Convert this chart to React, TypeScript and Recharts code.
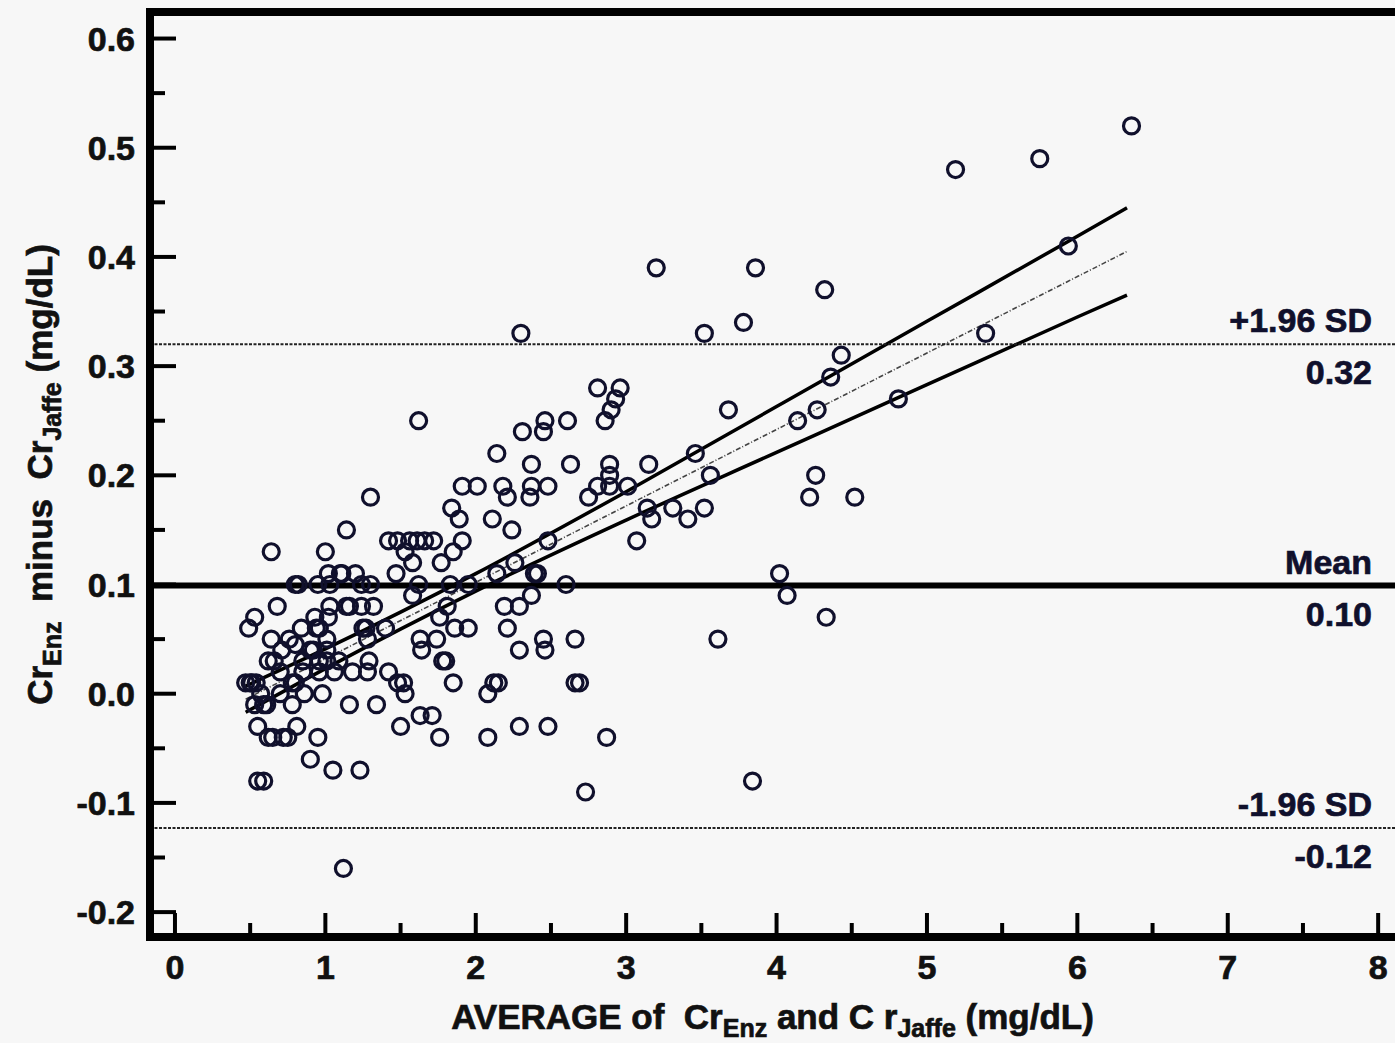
import { ComposedChart, Scatter, Line, XAxis, YAxis, ReferenceLine } from "recharts";

const FONT = "'Liberation Sans', Arial, sans-serif";
const INK = "#10102c";
const TEXT = "#111";

const X_DOMAIN = [-0.166, 8.112];
const Y_DOMAIN = [-0.2228, 0.6243];
const X_TICKS = [0, 0.5, 1, 1.5, 2, 2.5, 3, 3.5, 4, 4.5, 5, 5.5, 6, 6.5, 7, 7.5, 8];
const Y_TICKS = [-0.2, -0.15, -0.1, -0.05, 0, 0.05, 0.1, 0.15, 0.2, 0.25, 0.3, 0.35, 0.4, 0.45, 0.5, 0.55, 0.6];

// limits of agreement: value, name above the line, value text below the line
const LIMIT_VALUES = [0.32, 0.099, -0.123];
const LIMIT_NAMES = ["+1.96 SD", "Mean", "-1.96 SD"];
const LIMIT_TEXTS = ["0.32", "0.10", "-0.12"];

// regression of differences on averages, with its 95% confidence band
const REG_X = [0.47, 1, 2, 3, 4, 5, 6, 6.33];
const REG_MID = [-0.005, 0.032, 0.102, 0.172, 0.242, 0.312, 0.382, 0.405];
const REG_UPPER = [0.007, 0.041, 0.11, 0.185, 0.263, 0.341, 0.419, 0.445];
const REG_LOWER = [-0.017, 0.023, 0.094, 0.159, 0.221, 0.283, 0.345, 0.365];

// [average, difference] pairs, grouped by average
const POINTS_BELOW_1 = [
  [0.47, 0.01], [0.49, 0.06], [0.5, 0.01], [0.51, 0.01], [0.53, 0.07], [0.53, -0.01], [0.54, 0.01],
  [0.55, -0.03], [0.55, -0.08], [0.57, 0.0], [0.59, -0.01], [0.59, -0.08], [0.61, -0.01], [0.62, 0.03],
  [0.62, -0.04], [0.64, 0.13], [0.64, 0.05], [0.65, -0.04], [0.66, 0.03], [0.68, 0.08], [0.7, 0.02],
  [0.7, 0.0], [0.71, 0.04], [0.72, -0.04], [0.75, -0.04], [0.76, 0.05], [0.78, 0.01], [0.78, -0.01],
  [0.8, 0.1], [0.8, 0.045], [0.8, 0.01], [0.81, -0.03], [0.82, 0.1], [0.84, 0.06], [0.85, 0.03],
  [0.85, 0.02], [0.86, 0.0], [0.9, 0.04], [0.9, -0.06], [0.92, 0.04], [0.93, 0.07], [0.94, 0.06],
  [0.95, 0.1], [0.95, -0.04], [0.96, 0.06], [0.96, 0.03], [0.96, 0.02], [0.98, 0.0],
];
const POINTS_1_TO_2 = [
  [1.0, 0.13], [1.01, 0.05], [1.01, 0.04], [1.01, 0.03], [1.02, 0.11], [1.02, 0.07], [1.03, 0.1],
  [1.03, 0.08], [1.05, -0.07], [1.06, 0.02], [1.09, 0.03], [1.1, 0.11], [1.11, 0.11], [1.12, -0.16],
  [1.14, 0.15], [1.14, 0.08], [1.16, 0.08], [1.16, -0.01], [1.18, 0.02], [1.2, 0.11], [1.23, -0.07],
  [1.24, 0.1], [1.24, 0.08], [1.25, 0.06], [1.27, 0.06], [1.28, 0.05], [1.28, 0.02], [1.29, 0.03],
  [1.3, 0.18], [1.3, 0.1], [1.32, 0.08], [1.34, -0.01], [1.4, 0.06], [1.42, 0.14], [1.42, 0.02],
  [1.47, 0.11], [1.48, 0.14], [1.48, 0.01], [1.5, -0.03], [1.52, 0.01], [1.53, 0.13], [1.53, 0.0],
  [1.56, 0.14], [1.58, 0.12], [1.58, 0.09], [1.61, 0.14], [1.62, 0.25], [1.62, 0.1], [1.63, 0.05],
  [1.63, -0.02], [1.64, 0.04], [1.66, 0.14], [1.71, -0.02], [1.72, 0.14], [1.74, 0.05], [1.76, 0.07],
  [1.76, -0.04], [1.77, 0.12], [1.78, 0.03], [1.8, 0.03], [1.81, 0.08], [1.83, 0.1], [1.84, 0.17],
  [1.85, 0.13], [1.85, 0.01], [1.86, 0.06], [1.89, 0.16], [1.91, 0.19], [1.91, 0.14], [1.95, 0.1],
  [1.95, 0.06],
];
const POINTS_2_TO_3 = [
  [2.01, 0.19], [2.08, 0.0], [2.08, -0.04], [2.11, 0.16], [2.12, 0.01], [2.14, 0.22], [2.14, 0.11],
  [2.15, 0.01], [2.18, 0.19], [2.19, 0.08], [2.21, 0.18], [2.21, 0.06], [2.24, 0.15], [2.26, 0.12],
  [2.29, 0.08], [2.29, 0.04], [2.29, -0.03], [2.3, 0.33], [2.31, 0.24], [2.36, 0.18], [2.37, 0.21],
  [2.37, 0.19], [2.37, 0.09], [2.39, 0.11], [2.41, 0.11], [2.45, 0.24], [2.46, 0.25], [2.45, 0.05],
  [2.46, 0.04], [2.48, 0.19], [2.48, 0.14], [2.48, -0.03], [2.6, 0.1], [2.61, 0.25], [2.63, 0.21],
  [2.66, 0.05], [2.66, 0.01], [2.69, 0.01], [2.73, -0.09], [2.75, 0.18], [2.81, 0.28], [2.81, 0.19],
  [2.86, 0.25], [2.87, -0.04], [2.9, 0.26], [2.89, 0.21], [2.89, 0.2], [2.89, 0.19], [2.93, 0.27],
  [2.96, 0.28],
];
const POINTS_ABOVE_3 = [
  [3.01, 0.19], [3.07, 0.14], [3.14, 0.17], [3.15, 0.21], [3.17, 0.16], [3.2, 0.39], [3.31, 0.17],
  [3.41, 0.16], [3.46, 0.22], [3.52, 0.33], [3.52, 0.17], [3.56, 0.2], [3.61, 0.05], [3.68, 0.26],
  [3.78, 0.34], [3.84, -0.08], [3.86, 0.39], [4.02, 0.11], [4.07, 0.09], [4.14, 0.25], [4.22, 0.18],
  [4.26, 0.2], [4.27, 0.26], [4.32, 0.37], [4.33, 0.07], [4.36, 0.29], [4.43, 0.31], [4.52, 0.18],
  [4.81, 0.27], [5.19, 0.48], [5.39, 0.33], [5.75, 0.49], [5.94, 0.41], [6.36, 0.52],
];

const points = [...POINTS_BELOW_1, ...POINTS_1_TO_2, ...POINTS_2_TO_3, ...POINTS_ABOVE_3].map(([x, y]) => ({ x, y }));
const regMid = REG_X.map((x, i) => ({ x, y: REG_MID[i] }));
const regUpper = REG_X.map((x, i) => ({ x, y: REG_UPPER[i] }));
const regLower = REG_X.map((x, i) => ({ x, y: REG_LOWER[i] }));

const isMajor = (v: number, step: number) => Math.abs(v / step - Math.round(v / step)) < 1e-6;

// heavy bold text, a thin outline thickens the glyphs a little
const textStyle = { fontFamily: FONT, fontWeight: "bold" as const, stroke: TEXT, strokeWidth: 0.7, fill: TEXT };

function YTick(props: any) {
  const { x, y, payload } = props;
  const v = payload.value;
  const major = isMajor(v, 0.1);
  return (
    <g>
      <line x1={x} x2={x + (major ? 26 : 15)} y1={y} y2={y} stroke="#000" strokeWidth={4} />
      {major && (
        <text x={x - 15} y={y} dy={12} textAnchor="end" fontSize={34} {...textStyle}>
          {v.toFixed(1)}
        </text>
      )}
    </g>
  );
}

function XTick(props: any) {
  const { x, y, payload } = props;
  const v = payload.value;
  const major = isMajor(v, 1);
  return (
    <g>
      <line x1={x} x2={x} y1={y} y2={y - (major ? 24 : 14)} stroke="#000" strokeWidth={4} />
      {major && (
        <text x={x} y={y + 42} textAnchor="middle" fontSize={34} {...textStyle}>
          {String(v)}
        </text>
      )}
    </g>
  );
}

const xLabel = (props: any) => {
  const vb = props.viewBox;
  const cx = vb.x + vb.width / 2;
  return (
    <text x={cx} y={vb.y + 92} textAnchor="middle" fontSize={35} {...textStyle} style={{ whiteSpace: "pre" }}>
      <tspan>AVERAGE of  Cr</tspan>
      <tspan fontSize={25} dy={8}>Enz</tspan>
      <tspan dy={-8}> and C r</tspan>
      <tspan fontSize={25} dy={8}>Jaffe</tspan>
      <tspan dy={-8}> (mg/dL)</tspan>
    </text>
  );
};

const yLabel = (props: any) => {
  const vb = props.viewBox;
  const lx = vb.x + 52;
  const ly = vb.y + vb.height / 2;
  return (
    <text x={lx} y={ly} transform={`rotate(-90, ${lx}, ${ly})`} textAnchor="middle" fontSize={35} {...textStyle} style={{ whiteSpace: "pre" }}>
      <tspan>Cr</tspan>
      <tspan fontSize={25} dy={9}>Enz</tspan>
      <tspan dy={-9}>  minus  Cr</tspan>
      <tspan fontSize={25} dy={9}>Jaffe</tspan>
      <tspan dy={-9}> (mg/dL)</tspan>
    </text>
  );
};

const limitLabel = (name: string, value: string) => (props: any) => {
  const vb = props.viewBox;
  const right = vb.x + vb.width - 23;
  const ly = vb.y + (vb.height || 0) / 2;
  return (
    <g>
      <text x={right} y={ly - 12} textAnchor="end" fontSize={34} {...textStyle} fill={INK} stroke={INK}>{name}</text>
      <text x={right} y={ly + 40} textAnchor="end" fontSize={34} {...textStyle} fill={INK} stroke={INK}>{value}</text>
    </g>
  );
};

const renderCircle = (p: any) => <circle cx={p.cx} cy={p.cy} r={8} fill="none" stroke={INK} strokeWidth={3.2} />;

export default function App() {
  return (
    <div style={{ position: "absolute", left: 0, top: 0, width: 1395, height: 1043, background: "#f7f7f7" }}>
      <ComposedChart width={1395} height={1043} margin={{ top: 12, right: 0, bottom: 0, left: 0 }}>
        <XAxis
          type="number"
          dataKey="x"
          domain={X_DOMAIN}
          allowDataOverflow
          ticks={X_TICKS}
          interval={0}
          height={106}
          tickSize={0}
          tickMargin={0}
          tickLine={false}
          tick={<XTick />}
          axisLine={{ stroke: "#000", strokeWidth: 8, strokeLinecap: "square" }}
          label={xLabel}
        />
        <YAxis
          type="number"
          dataKey="y"
          domain={Y_DOMAIN}
          allowDataOverflow
          ticks={Y_TICKS}
          interval={0}
          width={150}
          tickSize={0}
          tickMargin={0}
          tickLine={false}
          tick={<YTick />}
          axisLine={{ stroke: "#000", strokeWidth: 8, strokeLinecap: "square" }}
          label={yLabel}
        />
        <Scatter data={points} dataKey="y" shape={renderCircle} isAnimationActive={false} />
        <Line data={regUpper} dataKey="y" type="monotone" stroke="#000" strokeWidth={3.5} dot={false} activeDot={false} isAnimationActive={false} />
        <Line data={regLower} dataKey="y" type="monotone" stroke="#000" strokeWidth={3.5} dot={false} activeDot={false} isAnimationActive={false} />
        <Line data={regMid} dataKey="y" type="monotone" stroke="#444" strokeWidth={1.6} strokeDasharray="5 2 1 2" dot={false} activeDot={false} isAnimationActive={false} />
        <ReferenceLine y={LIMIT_VALUES[0]} stroke="#222" strokeWidth={2} strokeDasharray="3 1.5" label={limitLabel(LIMIT_NAMES[0], LIMIT_TEXTS[0])} />
        <ReferenceLine y={LIMIT_VALUES[1]} stroke="#000" strokeWidth={6} label={limitLabel(LIMIT_NAMES[1], LIMIT_TEXTS[1])} />
        <ReferenceLine y={LIMIT_VALUES[2]} stroke="#222" strokeWidth={2} strokeDasharray="3 1.5" label={limitLabel(LIMIT_NAMES[2], LIMIT_TEXTS[2])} />
        <ReferenceLine y={Y_DOMAIN[1]} stroke="#000" strokeWidth={8} />
      </ComposedChart>
    </div>
  );
}
